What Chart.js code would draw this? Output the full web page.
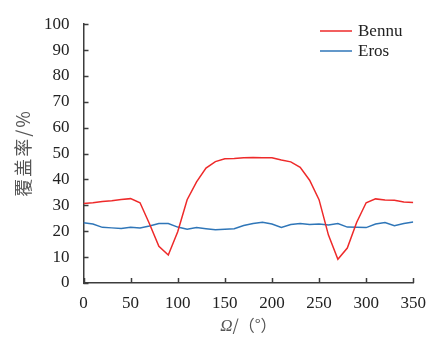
<!DOCTYPE html>
<html>
<head>
<meta charset="utf-8">
<script src="https://cdn.jsdelivr.net/npm/chart.js@4/dist/chart.umd.min.js"></script>
<style>
  html, body { margin: 0; padding: 0; background: #fff; }
  #wrap { width: 436px; height: 340px; }
</style>
</head>
<body>
<div id="wrap"><canvas id="chart" width="436" height="340"></canvas></div>
<script>
// orbit node angle (deg) vs. coverage (%)
const angles = [0, 10, 20, 30, 40, 50, 60, 70, 80, 90, 100, 110, 120, 130, 140, 150, 160, 170,
  180, 190, 200, 210, 220, 230, 240, 250, 260, 270, 280, 290, 300, 310, 320, 330, 340, 350];
const bennu = [30.7, 31.0, 31.5, 31.8, 32.3, 32.6, 31.0, 22.9, 14.2, 10.8, 19.8, 32.2, 39.1, 44.4, 46.9, 48.0, 48.1, 48.4,
  48.5, 48.4, 48.4, 47.5, 46.8, 44.7, 39.7, 32.2, 18.5, 9.2, 13.5, 23.5, 31.0, 32.5, 32.1, 32.0, 31.3, 31.1];
const eros = [23.3, 22.8, 21.5, 21.3, 21.1, 21.5, 21.3, 22.0, 23.0, 23.0, 21.6, 20.8, 21.4, 21.0, 20.6, 20.8, 21.0, 22.2,
  23.0, 23.5, 22.8, 21.5, 22.6, 23.0, 22.6, 22.8, 22.4, 23.0, 21.6, 21.5, 21.4, 22.8, 23.4, 22.1, 23.0, 23.6];
const seriesNames = ['Bennu', 'Eros'];
const xTitle = ['Ω', '/（°）'];
const yTitle = '覆盖率/%';

const serif = '"Liberation Serif", "DejaVu Serif", serif';
const cjk = '"Noto Sans CJK SC", "Noto Sans", sans-serif';
const axisColor = '#3c3c3c';

const pts = vals => angles.map((a, i) => ({ x: a, y: vals[i] }));

// inward tick marks, inner legend and axis titles
const extras = {
  id: 'extras',
  afterDraw(chart) {
    const ctx = chart.ctx;
    const { x, y } = chart.scales;
    const area = chart.chartArea;
    ctx.save();
    ctx.strokeStyle = axisColor;
    ctx.lineWidth = 1.5;
    ctx.beginPath();
    x.ticks.forEach(t => {
      const px = Math.round(x.getPixelForValue(t.value)) + 0.5;
      ctx.moveTo(px, area.bottom);
      ctx.lineTo(px, area.bottom - 5);
    });
    y.ticks.forEach(t => {
      const py = Math.round(y.getPixelForValue(t.value)) + 0.5;
      ctx.moveTo(area.left, py);
      ctx.lineTo(area.left + 5, py);
    });
    ctx.stroke();

    // legend
    ctx.textBaseline = 'middle';
    ctx.font = '17px ' + serif;
    ctx.fillStyle = '#222';
    chart.data.datasets.forEach((ds, i) => {
      const ly = 31 + i * 20;
      ctx.strokeStyle = ds.borderColor;
      ctx.lineWidth = 1.5;
      ctx.beginPath();
      ctx.moveTo(320, ly);
      ctx.lineTo(352, ly);
      ctx.stroke();
      ctx.fillText(ds.label, 358, ly + 1);
    });

    // x title: italic Ω then the unit
    ctx.fillStyle = '#555';
    ctx.textBaseline = 'alphabetic';
    const f1 = 'italic 17px ' + serif;
    const f2 = '16px ' + cjk;
    ctx.font = f1;
    const w1 = ctx.measureText(xTitle[0]).width;
    ctx.font = f2;
    const w2 = ctx.measureText(xTitle[1]).width;
    let tx = (area.left + area.right) / 2 - (w1 + w2) / 2;
    ctx.font = f1;
    ctx.fillText(xTitle[0], tx, 331);
    ctx.font = f2;
    ctx.fillText(xTitle[1], tx + w1, 331);

    // y title
    ctx.translate(23, 153);
    ctx.rotate(-Math.PI / 2);
    ctx.textAlign = 'center';
    ctx.textBaseline = 'middle';
    ctx.font = '18px ' + cjk;
    ctx.letterSpacing = '2px';
    ctx.fillText(yTitle, 0, 0);
    ctx.restore();
  }
};

new Chart(document.getElementById('chart'), {
  type: 'line',
  data: {
    datasets: [
      { label: seriesNames[0], data: pts(bennu), borderColor: '#ee2a2a', borderWidth: 1.5, pointRadius: 0, tension: 0 },
      { label: seriesNames[1], data: pts(eros), borderColor: '#2f76b8', borderWidth: 1.5, pointRadius: 0, tension: 0 }
    ]
  },
  options: {
    responsive: false,
    animation: false,
    layout: { padding: { left: 23.5, right: 21, top: 15, bottom: 0 } },
    plugins: {
      legend: { display: false },
      tooltip: { enabled: false }
    },
    scales: {
      x: {
        type: 'linear',
        min: 0,
        max: 350,
        ticks: { stepSize: 50, color: '#222', padding: 10, font: { family: serif, size: 17 } },
        grid: { display: false, drawTicks: false },
        border: { display: true, color: axisColor, width: 1.5 },
        afterFit(scale) { scale.height = 57; }
      },
      y: {
        min: 0,
        max: 100,
        ticks: { stepSize: 10, color: '#222', padding: 14, font: { family: serif, size: 17 } },
        grid: { display: false, drawTicks: false },
        border: { display: true, color: axisColor, width: 1.5 },
        afterFit(scale) { scale.width = 60; }
      }
    }
  },
  plugins: [extras]
});
</script>
</body>
</html>
